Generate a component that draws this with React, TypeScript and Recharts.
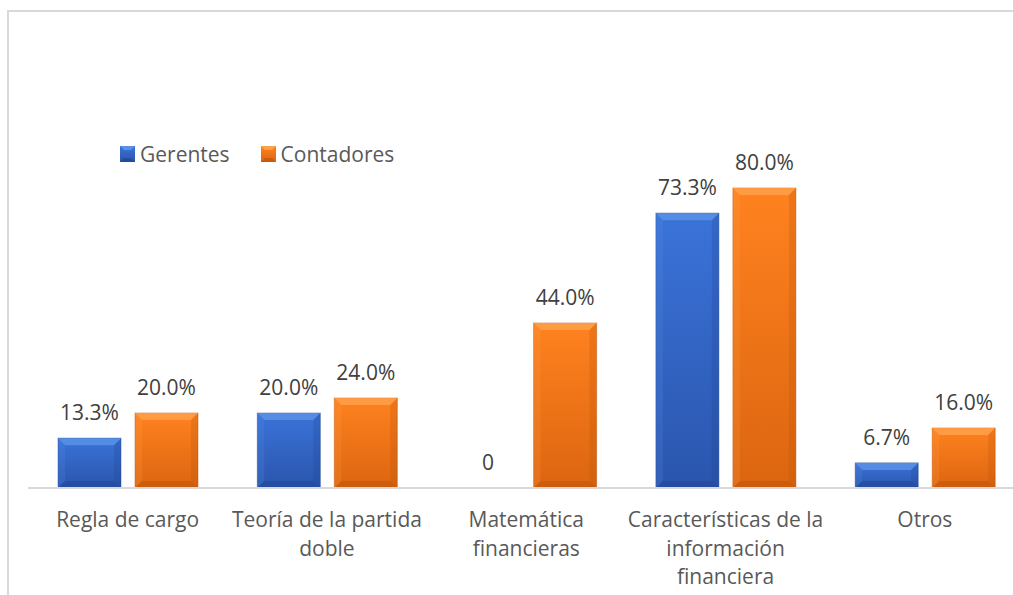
import React from 'react';
import { BarChart, Bar, XAxis, YAxis, Legend, LabelList } from 'recharts';

const categories = [
  'Regla de cargo',
  'Teoría de la partida\ndoble',
  'Matemática\nfinancieras',
  'Características de la\ninformación\nfinanciera',
  'Otros',
];
const gerentes = [13.3, 20.0, 0, 73.3, 6.7];
const contadores = [20.0, 24.0, 44.0, 80.0, 16.0];
const seriesNames = ['Gerentes', 'Contadores'];

const data = categories.map((name, i) => ({
  name,
  gerentes: gerentes[i],
  contadores: contadores[i],
}));

const FONT = '"Open Sans", "Noto Sans", sans-serif';
const FS = 21;

const tones: Record<string, { top: string; bottom: string; light: string; dark: string }> = {
  blue: { top: '#3b73d9', bottom: '#2a55ad', light: '#5a90e6', dark: '#1f4290' },
  orange: { top: '#ff821f', bottom: '#dc6510', light: '#ffa04a', dark: '#b85208' },
};

const BevelBar = (props: any) => {
  const { x, y, width, height, tone } = props;
  if (!height || height <= 0) return null;
  const t = tones[tone];
  const b = Math.min(7, height / 3, width / 3);
  return (
    <g>
      <rect x={x} y={y} width={width} height={height} fill={`url(#grad-${tone})`} stroke={t.dark} strokeOpacity={0.45} strokeWidth={1} />
      <polygon points={`${x},${y} ${x + width},${y} ${x + width - b},${y + b} ${x + b},${y + b}`} fill={t.light} opacity={0.85} />
      <polygon points={`${x},${y} ${x + b},${y + b} ${x + b},${y + height - b} ${x},${y + height}`} fill={t.light} opacity={0.2} />
      <polygon points={`${x + width},${y} ${x + width},${y + height} ${x + width - b},${y + height - b} ${x + width - b},${y + b}`} fill={t.dark} opacity={0.25} />
      <polygon points={`${x},${y + height} ${x + width},${y + height} ${x + width - b},${y + height - b} ${x + b},${y + height - b}`} fill={t.dark} opacity={0.45} />
    </g>
  );
};

const MultiLineTick = (props: any) => {
  const { x, y, payload } = props;
  const lines = String(payload.value).split('\n');
  return (
    <g transform={`translate(${x},${y})`}>
      <text textAnchor="middle" fill="#595959" fontSize={FS} fontFamily={FONT}>
        {lines.map((line, i) => (
          <tspan key={i} x={0} dy={i === 0 ? 39 : 28.5}>
            {line}
          </tspan>
        ))}
      </text>
    </g>
  );
};

const LegendSwatch = ({ tone }: { tone: string }) => {
  const t = tones[tone];
  return (
    <svg width={15} height={16} style={{ display: 'block' }}>
      <rect x={0} y={0} width={15} height={16} fill={`url(#grad-${tone})`} />
      <polygon points="0,0 15,0 11,4 4,4" fill={t.light} />
      <polygon points="0,16 15,16 11,12 4,12" fill={t.dark} opacity={0.6} />
    </svg>
  );
};

const CustomLegend = () => (
  <div style={{ display: 'flex', alignItems: 'center', fontFamily: FONT, fontSize: FS, color: '#595959' }}>
    {seriesNames.map((name, i) => (
      <div key={name} style={{ display: 'flex', alignItems: 'center', marginRight: i === 0 ? 31 : 0 }}>
        <LegendSwatch tone={i === 0 ? 'blue' : 'orange'} />
        <span style={{ marginLeft: 5 }}>{name}</span>
      </div>
    ))}
  </div>
);

const formatLabel = (v: any) => (Number(v) === 0 ? '0' : `${Number(v).toFixed(1)}%`);

export default function App() {
  return (
    <div style={{ position: 'fixed', left: 0, top: 0, width: 1013, height: 595, overflow: 'hidden', background: '#fff' }}>
      <div
        style={{
          position: 'absolute',
          left: 7,
          top: 10,
          width: 1200,
          height: 700,
          borderLeft: '2px solid #d9d9d9',
          borderTop: '2px solid #d9d9d9',
        }}
      />
      <div style={{ position: 'absolute', left: 0, top: 0 }}>
        <BarChart
          width={1040}
          height={595}
          data={data}
          margin={{ top: 113, right: 15.5, left: 28, bottom: 77 }}
          barCategoryGap={30}
          barGap={14}
        >
          <defs>
            {Object.keys(tones).map((k) => (
              <linearGradient key={k} id={`grad-${k}`} x1="0" y1="0" x2="0" y2="1">
                <stop offset="0%" stopColor={tones[k].top} />
                <stop offset="100%" stopColor={tones[k].bottom} />
              </linearGradient>
            ))}
          </defs>
          <XAxis
            dataKey="name"
            axisLine={{ stroke: '#d9d9d9', strokeWidth: 2 }}
            tickLine={false}
            tickSize={0}
            tickMargin={0}
            interval={0}
            tick={<MultiLineTick />}
          />
          <YAxis hide domain={[0, 100]} />
          <Legend
            layout="vertical"
            align="center"
            verticalAlign="middle"
            content={<CustomLegend />}
            wrapperStyle={{ top: 140, left: 120, width: 'auto' }}
          />
          <Bar dataKey="gerentes" name={seriesNames[0]} isAnimationActive={false} shape={(p: any) => <BevelBar {...p} tone="blue" />}>
            <LabelList dataKey="gerentes" position="top" offset={18} formatter={formatLabel} fill="#404040" fontSize={FS} fontFamily={FONT} />
          </Bar>
          <Bar dataKey="contadores" name={seriesNames[1]} isAnimationActive={false} shape={(p: any) => <BevelBar {...p} tone="orange" />}>
            <LabelList dataKey="contadores" position="top" offset={18} formatter={formatLabel} fill="#404040" fontSize={FS} fontFamily={FONT} />
          </Bar>
        </BarChart>
      </div>
    </div>
  );
}
